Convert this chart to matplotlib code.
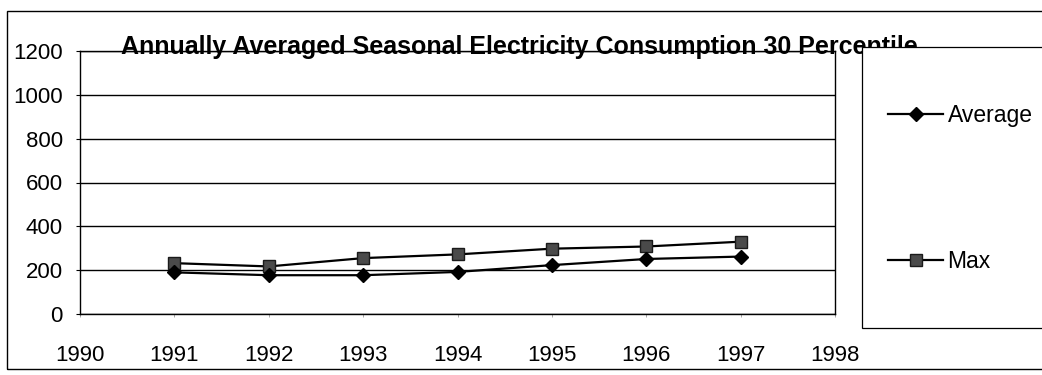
import matplotlib.pyplot as plt
from matplotlib.patches import Rectangle

# seasonal consumption, 30th percentile
years = [1991, 1992, 1993, 1994, 1995, 1996, 1997]
average = [190, 177, 177, 192, 223, 251, 262]
maximum = [232, 217, 255, 272, 298, 308, 330]

W, H = 1042, 375
plt.rcParams['font.family'] = ['Liberation Sans', 'DejaVu Sans']

fig = plt.figure(figsize=(W / 100, H / 100), dpi=100)
fig.patch.set_facecolor('white')


def fx(px):
    return px / W


def fy(py):
    return 1 - py / H


ax = fig.add_axes([fx(80), fy(314), fx(835) - fx(80), fy(51) - fy(314)])
ax.set_xlim(1990, 1998)
ax.set_ylim(0, 1200)
ax.set_yticks(range(0, 1201, 200))
ax.set_xticks(range(1990, 1999))
ax.yaxis.grid(True, color='black', linewidth=1.0)
ax.set_axisbelow(True)
for s in ax.spines.values():
    s.set_color('black')
    s.set_linewidth(1.0)
ax.tick_params(axis='y', length=3, width=0.8, pad=9.5, labelsize=16)
ax.tick_params(axis='x', length=2, width=0.6, pad=20, labelsize=16,
               color='#999999')

l_avg, = ax.plot(years, average, color='black', lw=1.6, marker='D',
                 ms=7.5, mfc='black', mec='black', zorder=4)
l_max, = ax.plot(years, maximum, color='black', lw=1.6, marker='s',
                 ms=8.5, mfc='#4a4a4a', mec='#1a1a1a', mew=1.0, zorder=3)

# title sits right on the top gridline
fig.text(fx(121), fy(54), 'Annually Averaged Seasonal Electricity Consumption 30 Percentile',
         fontsize=18, fontweight='bold', ha='left', va='baseline', zorder=1)

# outer chart border
fig.add_artist(Rectangle((fx(7), fy(369)), fx(1060) - fx(7), fy(11) - fy(369),
                         transform=fig.transFigure, fill=False,
                         edgecolor='black', linewidth=1.0, clip_on=False))

# legend box, covering the end of the title
fig.add_artist(Rectangle((fx(862), fy(328)), fx(1060) - fx(862), fy(47) - fy(328),
                         transform=fig.transFigure, facecolor='white',
                         edgecolor='black', linewidth=0.9, zorder=5,
                         clip_on=False))
leg = fig.legend([l_avg, l_max], ['Average', 'Max'], loc='upper left',
                 bbox_to_anchor=(fx(888), fy(104)), frameon=False,
                 fontsize=16.5, handlelength=2.4, handletextpad=0.2,
                 labelspacing=5.35, borderpad=0, borderaxespad=0)
leg.set_zorder(6)

fig.savefig('out.png', dpi=100, facecolor='white')
